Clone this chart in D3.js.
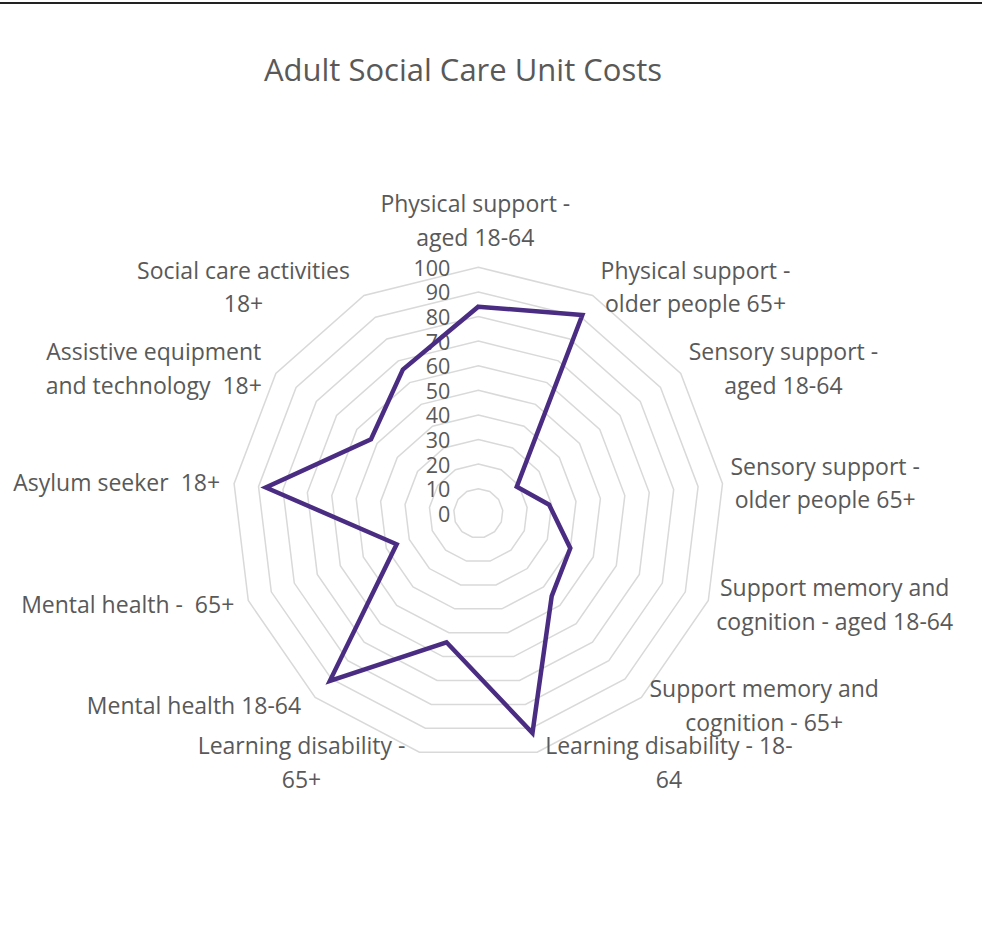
<!DOCTYPE html>
<html>
<head>
<meta charset="utf-8">
<script src="https://cdn.jsdelivr.net/npm/d3@7"></script>
<style>
  body { margin: 0; background: #fff; }
  text { font-family: "Open Sans", Lato, sans-serif; fill: #595959; white-space: pre; }
</style>
</head>
<body>
<div id="chart"></div>
<script>
// Chart data
var categories = [
  "Physical support - aged 18-64",
  "Physical support - older people 65+",
  "Sensory support - aged 18-64",
  "Sensory support - older people 65+",
  "Support memory and cognition - aged 18-64",
  "Support memory and cognition - 65+",
  "Learning disability - 18-64",
  "Learning disability - 65+",
  "Mental health 18-64",
  "Mental health -  65+",
  "Asylum seeker  18+",
  "Assistive equipment and technology  18+",
  "Social care activities 18+"
];

// how each category label wraps in the picture
var labelLines = [
  ["Physical support -", "aged 18-64"],
  ["Physical support -", "older people 65+"],
  ["Sensory support -", "aged 18-64"],
  ["Sensory support -", "older people 65+"],
  ["Support memory and", "cognition - aged 18-64"],
  ["Support memory and", "cognition - 65+"],
  ["Learning disability - 18-", "64"],
  ["Learning disability -", "65+"],
  ["Mental health 18-64"],
  ["Mental health -  65+"],
  ["Asylum seeker  18+"],
  ["Assistive equipment", "and technology  18+"],
  ["Social care activities", "18+"]
];

var unitCosts = [84, 91, 19, 29, 40, 45, 92, 54, 91, 35.5, 87, 53, 66];

var tickValues = [0, 10, 20, 30, 40, 50, 60, 70, 80, 90, 100];

var title = "Adult Social Care Unit Costs";

// Layout
var width = 982;
var height = 948;
var cx = 478.3;
var cy = 513.3;
var outerRadius = 246;
var lineHeight = 33.5;

var svg = d3.select("#chart")
  .append("svg")
  .attr("width", width)
  .attr("height", height);

// thin dark rule across the top
svg.append("rect")
  .attr("x", 0)
  .attr("y", 2)
  .attr("width", width)
  .attr("height", 2)
  .attr("fill", "#222");

svg.append("text")
  .attr("x", 463)
  .attr("y", 81)
  .attr("text-anchor", "middle")
  .attr("font-size", 31)
  .text(title);

var rScale = d3.scaleLinear().domain([0, 100]).range([0, outerRadius]);
var angleScale = d3.scaleLinear()
  .domain([0, categories.length])
  .range([0, 2 * Math.PI]);

var g = svg.append("g").attr("transform", "translate(" + cx + "," + cy + ")");

// grid rings (polygons)
var ring = d3.lineRadial()
  .angle(function(d, i) { return angleScale(i); })
  .radius(function(d) { return rScale(d); })
  .curve(d3.curveLinearClosed);

g.selectAll("path.ring")
  .data(tickValues.filter(function(t) { return t > 0; }))
  .enter()
  .append("path")
  .attr("class", "ring")
  .attr("d", function(t) { return ring(categories.map(function() { return t; })); })
  .attr("fill", "none")
  .attr("stroke", "#d9d9d9")
  .attr("stroke-width", 1.5);

// tick labels up the top spoke
g.selectAll("text.tick")
  .data(tickValues)
  .enter()
  .append("text")
  .attr("class", "tick")
  .attr("x", -28)
  .attr("y", function(t) { return -rScale(t); })
  .attr("text-anchor", "end")
  .attr("dominant-baseline", "central")
  .attr("font-size", 21.5)
  .text(function(t) { return t; });

// the data line
g.append("path")
  .datum(unitCosts)
  .attr("d", ring)
  .attr("fill", "none")
  .attr("stroke", "#4b2c83")
  .attr("stroke-width", 4.5)
  .attr("stroke-linejoin", "miter");

// category labels
function vertex(i) {
  var a = angleScale(i);
  return [Math.sin(a) * outerRadius, -Math.cos(a) * outerRadius, Math.sin(a), -Math.cos(a)];
}

var labels = g.selectAll("g.cat")
  .data(labelLines)
  .enter()
  .append("g")
  .attr("class", "cat")
  .each(function(lines, i) {
    var v = vertex(i);
    var n = lines.length;
    var x, anchor, midY;
    if (i === 0) {
      x = v[0] - 3;
      anchor = "middle";
      midY = v[1] - 14 - n * lineHeight / 2;
    } else if (v[2] > 0) {
      x = v[0] + 8;
      anchor = "start";
      midY = v[1] + v[3] * 10;
    } else {
      x = v[0] - 14;
      anchor = "end";
      midY = v[1] + v[3] * 10;
    }
    // the 2-line labels are centred on their own longest line
    var sel = d3.select(this);
    var texts = sel.selectAll("text")
      .data(lines)
      .enter()
      .append("text")
      .attr("y", function(d, k) { return midY + (k - (n - 1) / 2) * lineHeight; })
      .attr("dominant-baseline", "central")
      .attr("text-anchor", "middle")
      .attr("font-size", 23)
      .text(function(d) { return d; });
    var w = 0;
    texts.each(function() { w = Math.max(w, this.getComputedTextLength()); });
    var centerX = anchor === "start" ? x + w / 2 : anchor === "end" ? x - w / 2 : x;
    texts.attr("x", centerX);
  });
</script>
</body>
</html>
